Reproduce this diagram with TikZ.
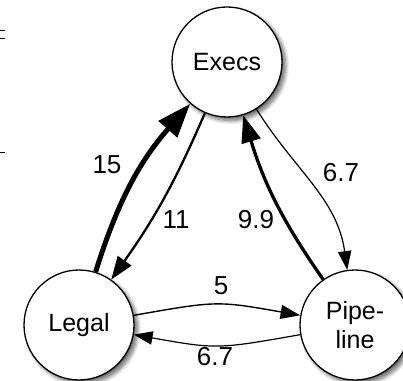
\documentclass[tikz,border=0pt]{standalone}
\usepackage{fontspec}
\setmainfont{Liberation Sans}
\usetikzlibrary{arrows.meta,shadows.blur}

\tikzset{
    zustand/.style={circle, draw, line width=1.3pt, fill=white,
        minimum size=110pt, inner sep=0pt, align=center,
        font=\fontsize{25}{29}\selectfont,
        blur shadow={shadow xshift=3.5pt, shadow yshift=-3.5pt, shadow blur steps=8, shadow blur radius=4pt, shadow opacity=60}},
    kante/.style={-{Triangle[length=14pt 4, width=10pt 2.8]}, bend left=#1},
    gewicht/.style={font=\fontsize{26}{30}\selectfont, inner sep=0pt},
}

\begin{document}
\begin{tikzpicture}[x=1pt, y=1pt]
    \useasboundingbox (0,0) rectangle (403,380);

    % Reste am linken Rand
    \draw[line width=1pt] (0,349) -- (5,349);
    \draw[line width=1pt] (0,341) -- (5,341);
    \draw[line width=1pt] (0,227) -- (5,227);

    % Knoten
    \node[zustand] (execs) at (227,318) {Execs};
    \node[zustand] (legal) at (79,55) {Legal};
    \node[zustand] (pipeline) at (355,55) {Pipe-\\line};

    % Kanten
    \draw[kante=12, line width=5pt] (legal) to (execs);
    \draw[kante=6, line width=2.3pt] (execs) to (legal);
    \draw[-{Triangle[length=14pt 4, width=10pt 2.8]}, out=-58, in=98, line width=1.2pt] (execs) to (pipeline);
    \draw[kante=9, line width=3.3pt] (pipeline) to (execs);
    \draw[kante=10, looseness=1.3, line width=1.4pt] (legal) to (pipeline);
    \draw[kante=10, looseness=1.3, line width=1.2pt] (pipeline) to (legal);

    % Gewichte
    \node[gewicht] (w15) at (107,215) {15};
    \node[gewicht] (w11) at (176,160) {11};
    \node[gewicht] (wep) at (341,207) {6.7};
    \node[gewicht] (wpe) at (256,160) {9.9};
    \node[gewicht] (wlp) at (221,94) {5};
    \node[gewicht] (wpl) at (215,23) {6.7};
\end{tikzpicture}
\end{document}
